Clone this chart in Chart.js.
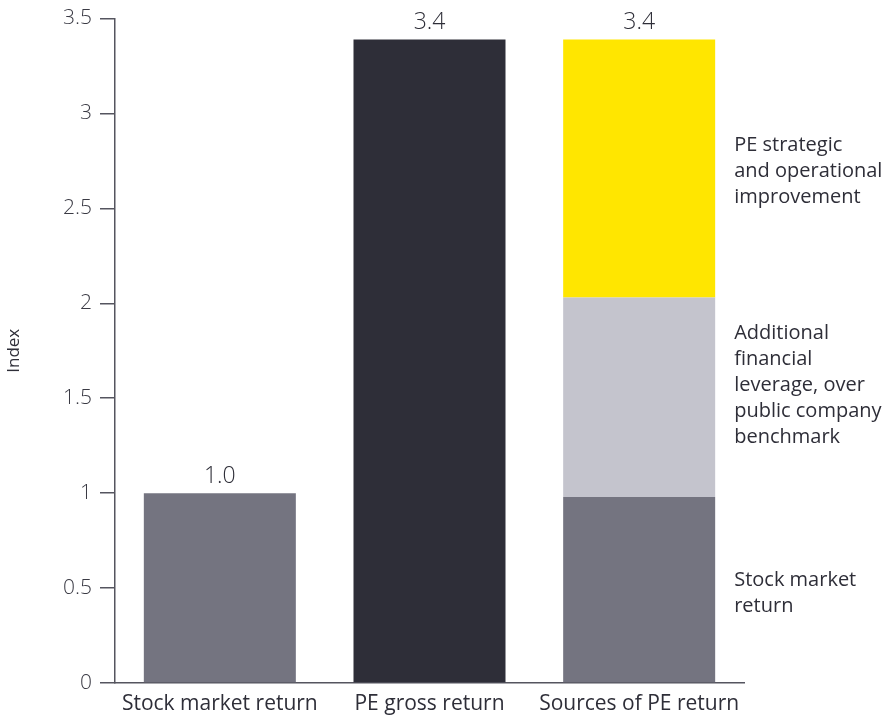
<!DOCTYPE html>
<html>
<head>
<meta charset="utf-8">
<script src="https://cdn.jsdelivr.net/npm/chart.js@4.4.1/dist/chart.umd.min.js"></script>
<style>
  html, body { margin: 0; padding: 0; background: #ffffff; }
  #wrap { width: 886px; height: 715px; position: relative; }
</style>
</head>
<body>
<div id="wrap"><canvas id="c" width="886" height="715"></canvas></div>
<script>
// ---- data ----
const categories = ['Stock market return', 'PE gross return', 'Sources of PE return'];
const stockMarket = [1.0, null, 0.98];
const peGross = [null, 3.39, null];
const leverage = [null, null, 1.05];
const strategic = [null, null, 1.36];
const yTicks = [0, 0.5, 1, 1.5, 2, 2.5, 3, 3.5];
const segmentLabels = [
  ['Stock market', 'return'],
  ['Additional', 'financial', 'leverage, over', 'public company', 'benchmark'],
  ['PE strategic', 'and operational', 'improvement']
];

const FONT = "'Open Sans', 'Noto Sans', sans-serif";
const TEXT = '#2e2e38';

const segmentLabelPlugin = {
  id: 'segmentLabels',
  afterDatasetsDraw(chart) {
    const ctx = chart.ctx;
    const lastIdx = categories.length - 1;
    const segs = [[0, 4], [2, -12], [3, 3]]; // dataset index, vertical nudge (px)
    ctx.save();
    // totals above bars
    ctx.font = '300 23px ' + FONT;
    ctx.fillStyle = TEXT;
    ctx.textAlign = 'center';
    ctx.textBaseline = 'bottom';
    categories.forEach((c, i) => {
      const total = [stockMarket, peGross, leverage, strategic]
        .reduce((s, arr) => s + (arr[i] || 0), 0);
      let x = null, top = null;
      chart.data.datasets.forEach((ds, di) => {
        if (ds.data[i] != null) {
          const el = chart.getDatasetMeta(di).data[i];
          x = el.x;
          top = top === null ? el.y : Math.min(top, el.y);
        }
      });
      ctx.fillText(total.toFixed(1), x, top - 5);
    });
    // segment labels to the right of the last bar
    ctx.font = '20px ' + FONT;
    ctx.textAlign = 'left';
    ctx.textBaseline = 'middle';
    const lh = 26;
    segs.forEach(([di, nudge], k) => {
      const el = chart.getDatasetMeta(di).data[lastIdx];
      const xLeft = el.x + el.width / 2 + 19;
      const mid = (el.y + el.base) / 2 + nudge;
      const lines = segmentLabels[k];
      const start = mid - (lines.length - 1) * lh / 2;
      lines.forEach((ln, li) => ctx.fillText(ln, xLeft, start + li * lh));
    });
    ctx.restore();
  }
};

new Chart(document.getElementById('c'), {
  type: 'bar',
  data: {
    labels: categories,
    datasets: [
      { label: 'Stock market return', data: stockMarket, backgroundColor: '#747480' },
      { label: 'PE gross return', data: peGross, backgroundColor: '#2e2e38' },
      { label: 'Additional financial leverage', data: leverage, backgroundColor: '#c4c4cd' },
      { label: 'PE strategic and operational improvement', data: strategic, backgroundColor: '#ffe600' }
    ]
  },
  options: {
    responsive: false,
    animation: false,
    layout: { padding: { top: 18, right: 142, bottom: 0, left: 0 } },
    datasets: { bar: { barPercentage: 0.725, categoryPercentage: 1.0, borderWidth: 0 } },
    plugins: { legend: { display: false }, tooltip: { enabled: false } },
    scales: {
      x: {
        stacked: true,
        grid: { display: true, drawOnChartArea: false, drawTicks: false },
        border: { display: true, color: '#55555f', width: 1.5 },
        ticks: { color: TEXT, font: { family: FONT, size: 21 }, padding: 8, maxRotation: 0 },
        afterFit(s) { s.height = 32; }
      },
      y: {
        stacked: true,
        min: 0,
        max: 3.5,
        afterBuildTicks(s) { s.ticks = yTicks.map(v => ({ value: v })); },
        grid: { display: true, drawOnChartArea: false, drawTicks: true, tickLength: 15, color: '#55555f', lineWidth: 1.5 },
        border: { display: true, color: '#55555f', width: 1.5 },
        ticks: { color: '#3a3a44', font: { family: FONT, size: 21, weight: '300', lineHeight: 1 }, padding: 8,
                 callback: (v) => String(v) },
        title: { display: true, text: 'Index', color: TEXT, font: { family: FONT, size: 17 }, padding: { top: 4, bottom: 0 } },
        afterFit(s) { s.width = 115; }
      }
    }
  },
  plugins: [segmentLabelPlugin]
});
</script>
</body>
</html>
